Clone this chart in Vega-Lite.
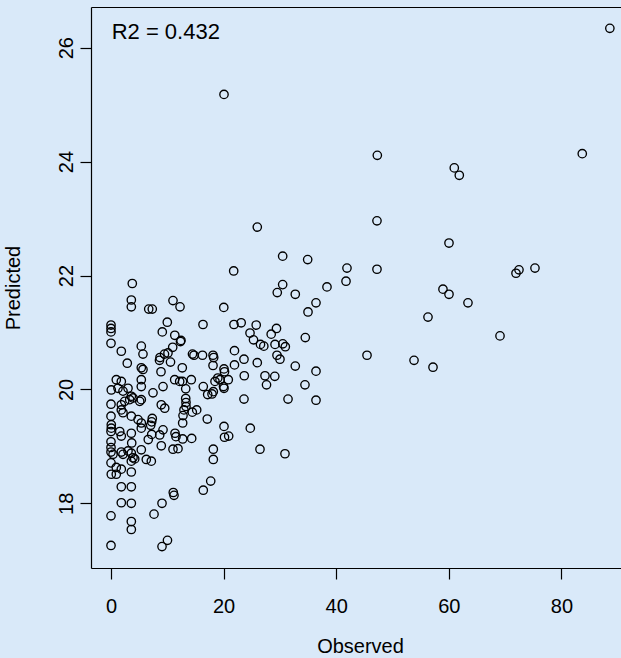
{
  "$schema": "https://vega.github.io/schema/vega-lite/v6.json",
  "width": 530,
  "height": 561,
  "autosize": {"type": "none"},
  "padding": {"left": 91, "top": 7, "right": 0, "bottom": 90},
  "background": "#d9e9f9",
  "config": {
    "view": {"stroke": null},
    "font": "Liberation Sans",
    "axis": {
      "domainColor": "black", "tickColor": "black", "labelColor": "black", "titleColor": "black",
      "grid": false, "labelFontSize": 20, "titleFontSize": 20, "titleFontWeight": "normal",
      "labelFont": "Liberation Sans", "titleFont": "Liberation Sans",
      "domainWidth": 1.2, "tickWidth": 1.2, "tickSize": 11
    }
  },
  "datasets": {
    "points": [
    {"observed": 88.6, "predicted": 26.34},
    {"observed": 20.07, "predicted": 25.18},
    {"observed": 47.3, "predicted": 24.11},
    {"observed": 60.97, "predicted": 23.89},
    {"observed": 61.86, "predicted": 23.76},
    {"observed": 83.7, "predicted": 24.14},
    {"observed": 25.98, "predicted": 22.85},
    {"observed": 47.24, "predicted": 22.96},
    {"observed": 60.03, "predicted": 22.57},
    {"observed": 41.91, "predicted": 22.13},
    {"observed": 41.74, "predicted": 21.9},
    {"observed": 38.36, "predicted": 21.8},
    {"observed": 36.41, "predicted": 21.52},
    {"observed": 47.24, "predicted": 22.11},
    {"observed": 45.47, "predicted": 20.6},
    {"observed": 53.82, "predicted": 20.51},
    {"observed": 57.19, "predicted": 20.39},
    {"observed": 56.3, "predicted": 21.27},
    {"observed": 58.96, "predicted": 21.76},
    {"observed": 60.03, "predicted": 21.67},
    {"observed": 63.4, "predicted": 21.52},
    {"observed": 69.09, "predicted": 20.94},
    {"observed": 71.93, "predicted": 22.04},
    {"observed": 72.46, "predicted": 22.1},
    {"observed": 75.3, "predicted": 22.13},
    {"observed": 36.41, "predicted": 20.32},
    {"observed": 36.41, "predicted": 19.81},
    {"observed": 30.49, "predicted": 22.34},
    {"observed": 34.93, "predicted": 22.28},
    {"observed": 21.79, "predicted": 22.08},
    {"observed": 3.78, "predicted": 21.86},
    {"observed": 30.49, "predicted": 21.84},
    {"observed": 29.53, "predicted": 21.7},
    {"observed": 32.73, "predicted": 21.67},
    {"observed": 3.61, "predicted": 21.57},
    {"observed": 3.61, "predicted": 21.45},
    {"observed": 11.01, "predicted": 21.56},
    {"observed": 12.26, "predicted": 21.45},
    {"observed": 6.7, "predicted": 21.41},
    {"observed": 7.33, "predicted": 21.41},
    {"observed": 20.03, "predicted": 21.44},
    {"observed": 34.99, "predicted": 21.36},
    {"observed": 10.0, "predicted": 21.18},
    {"observed": 16.34, "predicted": 21.14},
    {"observed": 21.84, "predicted": 21.14},
    {"observed": 23.12, "predicted": 21.17},
    {"observed": 25.79, "predicted": 21.13},
    {"observed": 0, "predicted": 21.13},
    {"observed": 0, "predicted": 21.07},
    {"observed": 0, "predicted": 21.01},
    {"observed": 9.11, "predicted": 21.01},
    {"observed": 29.39, "predicted": 21.07},
    {"observed": 24.69, "predicted": 20.99},
    {"observed": 28.45, "predicted": 20.97},
    {"observed": 11.33, "predicted": 20.95},
    {"observed": 12.43, "predicted": 20.86},
    {"observed": 25.31, "predicted": 20.87},
    {"observed": 26.55, "predicted": 20.79},
    {"observed": 27.14, "predicted": 20.76},
    {"observed": 29.13, "predicted": 20.79},
    {"observed": 30.51, "predicted": 20.8},
    {"observed": 30.96, "predicted": 20.75},
    {"observed": 34.51, "predicted": 20.91},
    {"observed": 16.25, "predicted": 20.6},
    {"observed": 18.12, "predicted": 20.6},
    {"observed": 18.24, "predicted": 20.56},
    {"observed": 21.93, "predicted": 20.68},
    {"observed": 23.62, "predicted": 20.53},
    {"observed": 25.98, "predicted": 20.47},
    {"observed": 29.48, "predicted": 20.6},
    {"observed": 30.01, "predicted": 20.53},
    {"observed": 32.73, "predicted": 20.41},
    {"observed": 18.12, "predicted": 20.42},
    {"observed": 21.93, "predicted": 20.43},
    {"observed": 20.07, "predicted": 20.36},
    {"observed": 20.16, "predicted": 20.31},
    {"observed": 23.67, "predicted": 20.24},
    {"observed": 27.35, "predicted": 20.24},
    {"observed": 29.09, "predicted": 20.23},
    {"observed": 27.62, "predicted": 20.08},
    {"observed": 34.45, "predicted": 20.08},
    {"observed": 18.97, "predicted": 20.2},
    {"observed": 19.36, "predicted": 20.17},
    {"observed": 18.47, "predicted": 20.14},
    {"observed": 20.83, "predicted": 20.17},
    {"observed": 19.98, "predicted": 20.05},
    {"observed": 20.07, "predicted": 20.02},
    {"observed": 16.39, "predicted": 20.05},
    {"observed": 18.17, "predicted": 19.96},
    {"observed": 17.94, "predicted": 19.92},
    {"observed": 17.17, "predicted": 19.91},
    {"observed": 23.62, "predicted": 19.83},
    {"observed": 31.44, "predicted": 19.83},
    {"observed": 17.1, "predicted": 19.48},
    {"observed": 20.07, "predicted": 19.35},
    {"observed": 24.74, "predicted": 19.32},
    {"observed": 20.16, "predicted": 19.16},
    {"observed": 20.9, "predicted": 19.18},
    {"observed": 0, "predicted": 20.81},
    {"observed": 5.38, "predicted": 20.76},
    {"observed": 1.83, "predicted": 20.67},
    {"observed": 5.68, "predicted": 20.62},
    {"observed": 2.89, "predicted": 20.46},
    {"observed": 5.38, "predicted": 20.38},
    {"observed": 5.68, "predicted": 20.35},
    {"observed": 10.96, "predicted": 20.74},
    {"observed": 9.5, "predicted": 20.62},
    {"observed": 10.12, "predicted": 20.64},
    {"observed": 8.7, "predicted": 20.56},
    {"observed": 8.61, "predicted": 20.51},
    {"observed": 10.57, "predicted": 20.48},
    {"observed": 14.47, "predicted": 20.62},
    {"observed": 14.74, "predicted": 20.6},
    {"observed": 12.34, "predicted": 20.84},
    {"observed": 12.66, "predicted": 20.38},
    {"observed": 8.88, "predicted": 20.31},
    {"observed": 0.94, "predicted": 20.17},
    {"observed": 1.83, "predicted": 20.14},
    {"observed": 5.38, "predicted": 20.17},
    {"observed": 0.05, "predicted": 19.99},
    {"observed": 1.24, "predicted": 20.02},
    {"observed": 2.13, "predicted": 19.97},
    {"observed": 3.02, "predicted": 20.02},
    {"observed": 5.38, "predicted": 20.05},
    {"observed": 7.46, "predicted": 19.94},
    {"observed": 3.61, "predicted": 19.88},
    {"observed": 3.32, "predicted": 19.82},
    {"observed": 2.43, "predicted": 19.79},
    {"observed": 3.91, "predicted": 19.85},
    {"observed": 5.38, "predicted": 19.82},
    {"observed": 5.1, "predicted": 19.79},
    {"observed": 0, "predicted": 19.74},
    {"observed": 1.83, "predicted": 19.73},
    {"observed": 1.83, "predicted": 19.64},
    {"observed": 2.13, "predicted": 19.59},
    {"observed": 3.61, "predicted": 19.53},
    {"observed": 0, "predicted": 19.53},
    {"observed": 4.8, "predicted": 19.47},
    {"observed": 5.38, "predicted": 19.41},
    {"observed": 5.38, "predicted": 19.32},
    {"observed": 0.05, "predicted": 19.38},
    {"observed": 0.05, "predicted": 19.32},
    {"observed": 0, "predicted": 19.26},
    {"observed": 1.55, "predicted": 19.26},
    {"observed": 1.83, "predicted": 19.18},
    {"observed": 3.61, "predicted": 19.23},
    {"observed": 11.31, "predicted": 20.17},
    {"observed": 12.2, "predicted": 20.14},
    {"observed": 12.7, "predicted": 20.14},
    {"observed": 14.26, "predicted": 20.17},
    {"observed": 9.24, "predicted": 20.05},
    {"observed": 8.93, "predicted": 19.73},
    {"observed": 9.54, "predicted": 19.67},
    {"observed": 9.24, "predicted": 19.29},
    {"observed": 8.65, "predicted": 19.2},
    {"observed": 13.27, "predicted": 20.01},
    {"observed": 13.27, "predicted": 19.84},
    {"observed": 13.32, "predicted": 19.77},
    {"observed": 13.32, "predicted": 19.7},
    {"observed": 12.96, "predicted": 19.64},
    {"observed": 14.44, "predicted": 19.6},
    {"observed": 15.22, "predicted": 19.64},
    {"observed": 12.79, "predicted": 19.54},
    {"observed": 12.73, "predicted": 19.41},
    {"observed": 7.33, "predicted": 19.49},
    {"observed": 7.23, "predicted": 19.43},
    {"observed": 7.05, "predicted": 19.37},
    {"observed": 7.23, "predicted": 19.21},
    {"observed": 6.62, "predicted": 19.12},
    {"observed": 11.37, "predicted": 19.23},
    {"observed": 11.54, "predicted": 19.17},
    {"observed": 12.73, "predicted": 19.13},
    {"observed": 14.33, "predicted": 19.14},
    {"observed": 0, "predicted": 19.08},
    {"observed": 3.68, "predicted": 19.06},
    {"observed": 0, "predicted": 18.98},
    {"observed": 0, "predicted": 18.9},
    {"observed": 0.36, "predicted": 18.86},
    {"observed": 1.83, "predicted": 18.9},
    {"observed": 2.13, "predicted": 18.86},
    {"observed": 3.02, "predicted": 18.92},
    {"observed": 3.61, "predicted": 18.88},
    {"observed": 3.91, "predicted": 18.8},
    {"observed": 3.61, "predicted": 18.74},
    {"observed": 4.21, "predicted": 18.78},
    {"observed": 5.38, "predicted": 18.94},
    {"observed": 8.93, "predicted": 19.01},
    {"observed": 11.01, "predicted": 18.95},
    {"observed": 11.9, "predicted": 18.96},
    {"observed": 6.27, "predicted": 18.77},
    {"observed": 7.16, "predicted": 18.74},
    {"observed": 0, "predicted": 18.71},
    {"observed": 0.94, "predicted": 18.63},
    {"observed": 1.83, "predicted": 18.6},
    {"observed": 0.05, "predicted": 18.51},
    {"observed": 0.94, "predicted": 18.51},
    {"observed": 3.61, "predicted": 18.55},
    {"observed": 1.83, "predicted": 18.29},
    {"observed": 3.61, "predicted": 18.29},
    {"observed": 1.83, "predicted": 18.01},
    {"observed": 3.61, "predicted": 18.0},
    {"observed": 0, "predicted": 17.78},
    {"observed": 3.61, "predicted": 17.68},
    {"observed": 3.61, "predicted": 17.54},
    {"observed": 7.64, "predicted": 17.81},
    {"observed": 9.06, "predicted": 18.0},
    {"observed": 11.06, "predicted": 18.19},
    {"observed": 11.19, "predicted": 18.14},
    {"observed": 16.39, "predicted": 18.23},
    {"observed": 17.71, "predicted": 18.39},
    {"observed": 0, "predicted": 17.26},
    {"observed": 9.06, "predicted": 17.24},
    {"observed": 10.03, "predicted": 17.35},
    {"observed": 18.17, "predicted": 18.95},
    {"observed": 18.17, "predicted": 18.77},
    {"observed": 26.46, "predicted": 18.95},
    {"observed": 30.9, "predicted": 18.87}
    ],
    "note": [{"label": "R2 = 0.432", "observed": 0.12, "predicted": 26.147}]
  },
  "layer": [
    {
      "data": {"name": "points"},
      "mark": {"type": "point", "shape": "circle", "filled": false, "color": "black", "size": 70, "strokeWidth": 1.35, "opacity": 1},
      "encoding": {
        "x": {
          "field": "observed", "type": "quantitative",
          "scale": {"domain": [-3.552, 90.58], "nice": false, "zero": false},
          "axis": {"title": "Observed", "values": [0, 20, 40, 60, 80], "format": "d", "labelBaseline": "alphabetic", "labelPadding": 33,
                   "titleBaseline": "alphabetic", "titleX": 269, "titleY": 84, "titleAnchor": "middle", "titleAlign": "center"}
        },
        "y": {
          "field": "predicted", "type": "quantitative",
          "scale": {"domain": [16.864, 26.715], "nice": false, "zero": false},
          "axis": {"title": "Predicted", "values": [18, 20, 22, 24, 26], "format": "d", "labelAngle": -90, "labelAlign": "center", "labelBaseline": "alphabetic", "labelPadding": 8,
                   "titleAngle": -90, "titleBaseline": "alphabetic", "titleAlign": "center", "titleX": -72, "titleY": 280.5}
        }
      }
    },
    {
      "data": {"name": "note"},
      "mark": {"type": "text", "align": "left", "baseline": "alphabetic", "fontSize": 22, "font": "Liberation Sans", "color": "black"},
      "encoding": {
        "x": {"field": "observed", "type": "quantitative", "axis": {"orient": "top", "labels": false, "ticks": false, "title": null, "domain": true}},
        "y": {"field": "predicted", "type": "quantitative"},
        "text": {"field": "label"}
      }
    }
  ],
  "resolve": {"axis": {"x": "independent"}}
}
